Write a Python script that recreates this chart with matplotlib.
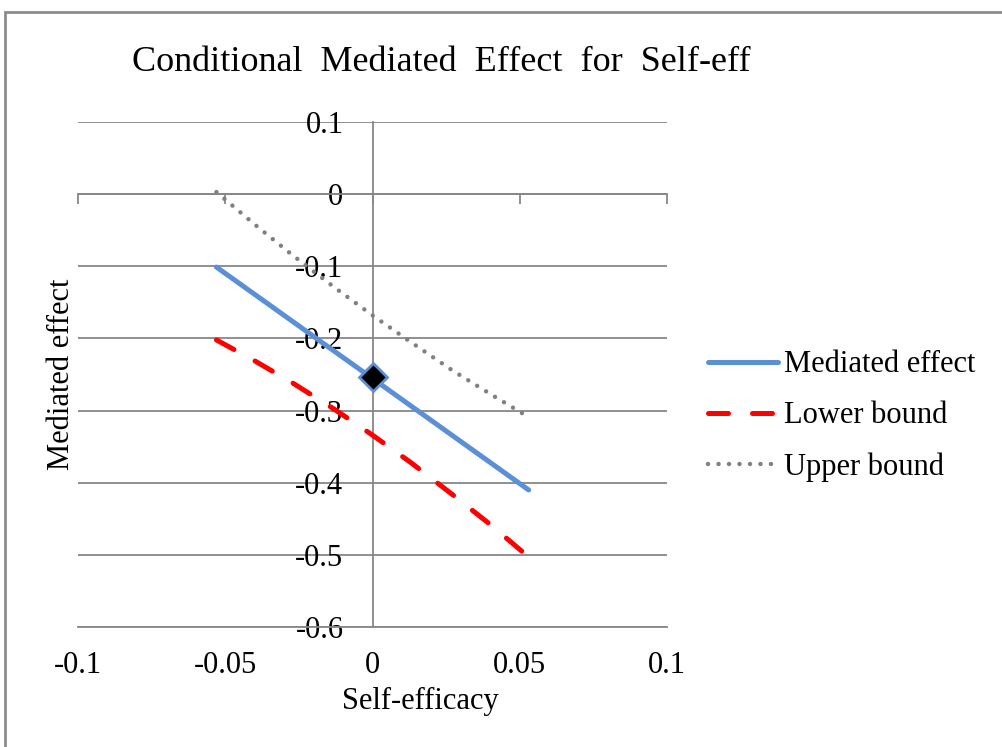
import matplotlib
matplotlib.use("Agg")
import matplotlib.pyplot as plt
from matplotlib.patches import Rectangle

plt.rcParams['font.family'] = ['Liberation Serif', 'DejaVu Serif']

# values
x_vals = [-0.053, -0.04, -0.027, -0.013, 0.0, 0.013, 0.027, 0.04, 0.053]
lower = [-0.202, -0.231, -0.262, -0.298, -0.334, -0.372, -0.416, -0.458, -0.503]
upper = [0.003, -0.042, -0.085, -0.129, -0.168, -0.205, -0.244, -0.277, -0.309]
med_x = [-0.053, 0.0, 0.053]
mediated = [-0.101, -0.2555, -0.41]
point_x = [0.0]
point_y = [-0.253]

x_ticks = [-0.1, -0.05, 0, 0.05, 0.1]
x_labels = ['-0.1', '-0.05', '0', '0.05', '0.1']
y_ticks = [0.1, 0, -0.1, -0.2, -0.3, -0.4, -0.5, -0.6]
y_labels = ['0.1', '0', '-0.1', '-0.2', '-0.3', '-0.4', '-0.5', '-0.6']

grey = '#878787'
fs = 22

fig = plt.figure(figsize=(10.02, 7.47), dpi=100)
ax = fig.add_axes([0.0778, 0.1606, 0.588, 0.676])

ax.plot(med_x, mediated, color='#5b8fd6', lw=3.6, solid_capstyle='round',
        label='Mediated effect', zorder=3)
ax.plot(x_vals, lower, color='#ff0000', lw=3.6, dashes=(4, 4.8),
        dash_capstyle='round', label='Lower bound', zorder=3)
ax.plot(x_vals, upper, color='#808080', lw=3.2, dashes=(0.01, 2.35),
        dash_capstyle='round', label='Upper bound', zorder=3)
ax.plot(point_x, point_y, marker='D', ms=14, mfc='black', mec='#5b8fd6',
        mew=2, ls='none', zorder=4)

ax.set_xlim(-0.1, 0.1)
ax.set_ylim(-0.6, 0.1)

# horizontal gridlines
ax.set_yticks(y_ticks)
ax.set_yticklabels(y_labels)
ax.yaxis.grid(True, color=grey, lw=1.3)
ax.set_axisbelow(True)

# axes lines crossing at zero (top spine used as the y=0 line)
for side in ['left', 'top', 'bottom']:
    ax.spines[side].set_color(grey)
    ax.spines[side].set_linewidth(1.3)
ax.spines['right'].set_visible(False)
ax.spines['left'].set_position(('data', 0))
ax.spines['top'].set_position(('data', 0))

ax.set_xticks(x_ticks)
ax.set_xticklabels(x_labels)
ax.tick_params(axis='x', bottom=False, top=True, labeltop=False, labelbottom=True,
               direction='in', length=7, width=1.3, color=grey, labelsize=fs, pad=17)
ax.tick_params(axis='y', length=0, labelsize=fs, pad=21)

ax.set_xlabel('Self-efficacy', fontsize=fs)
ax.xaxis.set_label_coords(0.582, -0.118)
ax.set_ylabel('Mediated effect', fontsize=fs)
ax.yaxis.set_label_coords(-0.003, 0.5)

fig.text(0.44, 0.917, 'Conditional  Mediated  Effect  for  Self-eff',
         ha='center', va='center', fontsize=26)

leg = ax.legend(loc='center left', bbox_to_anchor=(1.022, 0.418), frameon=False,
                fontsize=fs, handlelength=2.3, handletextpad=0.2, labelspacing=0.72)

# outer chart border (only top and left visible)
fig.patches.append(Rectangle((5 / 1002, -0.1), 1.2, 1.1 - 12 / 747, transform=fig.transFigure,
                             fill=False, ec='#8c8c8c', lw=2))

fig.savefig('out.png', dpi=100)
